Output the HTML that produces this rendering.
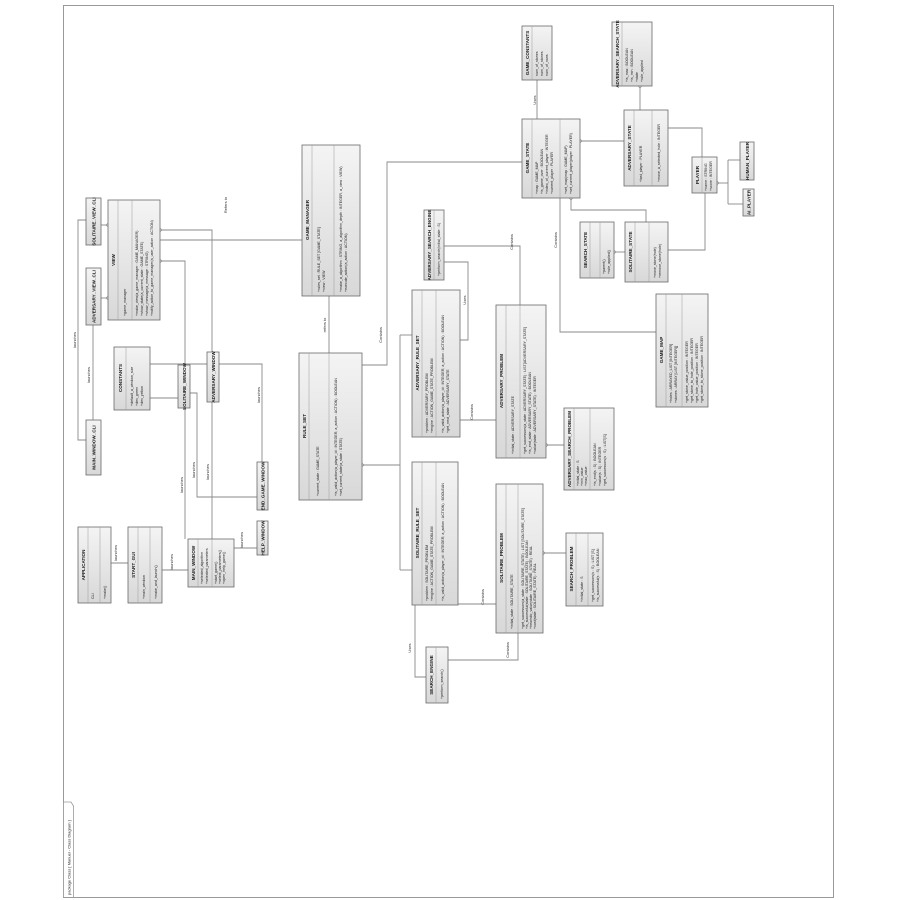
<!DOCTYPE html>
<html><head><meta charset="utf-8"><style>
html,body{margin:0;padding:0;background:#fff;}
svg{display:block;}
text{font-family:"Liberation Sans",sans-serif;fill:#222;}
.n{font-size:4.6px;font-weight:bold;text-anchor:middle;}
.s{font-size:3px;fill:#888;text-anchor:middle;}
.a{font-size:3.6px;text-anchor:start;}
.l{font-size:4px;text-anchor:middle;fill:#333;}
rect.b{fill:url(#g);stroke:#6a6a6a;stroke-width:0.8;}
line.d{stroke:#9a9a9a;stroke-width:0.5;}
.c{fill:none;stroke:#8a8a8a;stroke-width:0.9;}
</style></head><body>
<svg width="900" height="900" viewBox="0 0 900 900" xmlns="http://www.w3.org/2000/svg">
<defs><linearGradient id="g" x1="0" y1="0" x2="0" y2="1"><stop offset="0" stop-color="#f4f4f4"/><stop offset="1" stop-color="#d8d8d8"/></linearGradient></defs>
<rect x="63.5" y="5.5" width="770" height="892" fill="#fff" stroke="#999" stroke-width="1"/>
<path d="M63.5 897 L63.5 802 L71 802 L73.5 806 L73.5 897" fill="#fff" stroke="#999" stroke-width="0.8"/>
<text class="a" transform="translate(70.5,895) rotate(-90)" style="font-size:4px">package Class [ Manuel - Class Diagram ]</text>

<!-- connectors -->
<g class="c">
<polyline points="160,240 302,240"/>
<polyline points="329,296 329,353"/>
<polyline points="362,365 387,365 387,162 522,162"/>
<polyline points="362,465 400,465"/><polyline points="400,335 400,570"/><polyline points="400,335 412,335"/><polyline points="400,570 412,570"/>
<polyline points="444,246 520,246 520,305"/>
<polyline points="444,262 468,262 468,340 460,340"/>
<polyline points="460,420 496,420"/>
<polyline points="546,445 564,445"/>
<polyline points="458,604 496,604"/>
<polyline points="448,660 518,660 518,633"/>
<polyline points="415,605 415,677 426,677"/>
<polyline points="543,553 566,553"/>
<polyline points="537,80 537,119"/>
<polyline points="640,86 640,110"/>
<polyline points="580,141 624,141"/>
<polyline points="668,128 702,128 702,157"/>
<polyline points="717,183 728,183"/><polyline points="728,160 728,204"/><polyline points="728,160 740,160"/><polyline points="728,204 743,204"/>
<polyline points="571,198 571,210 646,210 646,222"/>
<polyline points="614,252 625,252"/>
<polyline points="705,193 705,250 668,250"/>
<polyline points="560,198 560,332 656,332"/>
<polyline points="101,225 108,225"/><polyline points="101,298 108,298"/>
<polyline points="86,440 78,440 78,220 86,220"/>
<polyline points="93,420 93,325"/>
<polyline points="160,230 212,230 212,352"/>
<polyline points="160,261 185,261 185,365"/>
<polyline points="150,364 262,364 262,462"/>
<polyline points="150,398 178,398"/>
<polyline points="190,393 197,393 197,497 257,497"/>
<polyline points="185,408 185,539"/>
<polyline points="212,402 212,539"/>
<polyline points="234,548 257,548"/>
<polyline points="162,570 188,570"/>
<polyline points="111,563 128,563"/>
</g>
<g fill="#fff" stroke="#777" stroke-width="0.6">
<circle cx="580" cy="141" r="1.3"/><circle cx="571" cy="198" r="1.3"/><circle cx="717" cy="183" r="1.3"/><circle cx="546" cy="445" r="1.3"/><circle cx="543" cy="553" r="1.3"/><circle cx="614" cy="252" r="1.3"/><circle cx="640" cy="86" r="1.3"/><circle cx="362" cy="465" r="1.3"/><circle cx="108" cy="225" r="1.3"/><circle cx="108" cy="298" r="1.3"/><circle cx="160" cy="230" r="1.3"/><circle cx="160" cy="261" r="1.3"/>
</g>
<!-- connector labels -->
<text class="l" transform="translate(227,205) rotate(-90)">Refers to</text>
<text class="l" transform="translate(326,325) rotate(-90)">refers to</text>
<text class="l" transform="translate(382,335) rotate(-90)">Contains</text>
<text class="l" transform="translate(513,242) rotate(-90)">Contains</text>
<text class="l" transform="translate(466,300) rotate(-90)">Uses</text>
<text class="l" transform="translate(473,412) rotate(-90)">Contains</text>
<text class="l" transform="translate(484,597) rotate(-90)">Contains</text>
<text class="l" transform="translate(509,650) rotate(-90)">Contains</text>
<text class="l" transform="translate(411,648) rotate(-90)">Uses</text>
<text class="l" transform="translate(536,100) rotate(-90)">Uses</text>
<text class="l" transform="translate(557,240) rotate(-90)">Contains</text>
<text class="l" transform="translate(76,340) rotate(-90)">launches</text>
<text class="l" transform="translate(90,375) rotate(-90)">launches</text>
<text class="l" transform="translate(260,395) rotate(-90)">launches</text>
<text class="l" transform="translate(183,485) rotate(-90)">launches</text>
<text class="l" transform="translate(195,470) rotate(-90)">launches</text>
<text class="l" transform="translate(209,472) rotate(-90)">launches</text>
<text class="l" transform="translate(243,540) rotate(-90)">launches</text>
<text class="l" transform="translate(173,562) rotate(-90)">launches</text>
<text class="l" transform="translate(117,553) rotate(-90)">launches</text>

<!-- boxes -->
<g transform="translate(522,26)"><rect class="b" width="30" height="54"/><line class="d" x1="10" y1="0" x2="10" y2="54"/><text class="n" transform="translate(7,27) rotate(-90)">GAME_CONSTANTS</text><text class="a" transform="translate(16,50) rotate(-90)">num_of_stones</text><text class="a" transform="translate(21,50) rotate(-90)">num_of_stones</text><text class="a" transform="translate(26,50) rotate(-90)">num_of_rows</text></g>

<g transform="translate(612,22)"><rect class="b" width="40" height="64"/><line class="d" x1="10" y1="0" x2="10" y2="64"/><text class="n" transform="translate(7,32) rotate(-90)">ADVERSARY_SEARCH_STATE</text><text class="a" transform="translate(16,60) rotate(-90)">+is_max : BOOLEAN</text><text class="a" transform="translate(21,60) rotate(-90)">+is_min : BOOLEAN</text><text class="a" transform="translate(26,60) rotate(-90)">+state</text><text class="a" transform="translate(31,60) rotate(-90)">+rule_applied</text></g>

<g transform="translate(522,119)"><rect class="b" width="58" height="79"/><line class="d" x1="10" y1="0" x2="10" y2="79"/><line class="d" x1="38" y1="0" x2="38" y2="79"/><text class="n" transform="translate(7,39) rotate(-90)">GAME_STATE</text><text class="a" transform="translate(16,75) rotate(-90)">+map : GAME_MAP</text><text class="a" transform="translate(21,75) rotate(-90)">+is_game_over : BOOLEAN</text><text class="a" transform="translate(26,75) rotate(-90)">+index_of_current_player : INTEGER</text><text class="a" transform="translate(31,75) rotate(-90)">+current_player : PLAYER</text><text class="a" transform="translate(45,75) rotate(-90)">+set_map(map : GAME_MAP)</text><text class="a" transform="translate(50,75) rotate(-90)">+set_current_player(player : PLAYER)</text></g>

<g transform="translate(624,110)"><rect class="b" width="44" height="76"/><line class="d" x1="10" y1="0" x2="10" y2="76"/><line class="d" x1="28" y1="0" x2="28" y2="76"/><text class="n" transform="translate(7,38) rotate(-90)">ADVERSARY_STATE</text><text class="a" transform="translate(18,72) rotate(-90)">+last_player : PLAYER</text><text class="a" transform="translate(36,72) rotate(-90)">+move_a_selected_hole : INTEGER</text></g>

<g transform="translate(692,157)"><rect class="b" width="25" height="36"/><line class="d" x1="10" y1="0" x2="10" y2="36"/><text class="n" transform="translate(7,18) rotate(-90)">PLAYER</text><text class="a" transform="translate(15,34) rotate(-90)">+name : STRING</text><text class="a" transform="translate(20,34) rotate(-90)">+score : INTEGER</text></g>
<g transform="translate(740,142)"><rect class="b" width="14" height="38"/><text class="n" transform="translate(9,19) rotate(-90)">HUMAN_PLAYER</text></g>
<g transform="translate(743,189)"><rect class="b" width="11" height="27"/><text class="n" transform="translate(7.5,13.5) rotate(-90)">AI_PLAYER</text></g>

<g transform="translate(580,222)"><rect class="b" width="34" height="56"/><line class="d" x1="10" y1="0" x2="10" y2="56"/><line class="d" x1="20" y1="0" x2="20" y2="56"/><text class="n" transform="translate(7,28) rotate(-90)">SEARCH_STATE</text><text class="a" transform="translate(25,52) rotate(-90)">+parent()</text><text class="a" transform="translate(30,52) rotate(-90)">+rule_applied()</text></g>
<g transform="translate(625,222)"><rect class="b" width="43" height="60"/><line class="d" x1="10" y1="0" x2="10" y2="60"/><line class="d" x1="24" y1="0" x2="24" y2="60"/><text class="n" transform="translate(7,30) rotate(-90)">SOLITAIRE_STATE</text><text class="a" transform="translate(31,56) rotate(-90)">+move_stone(hole)</text><text class="a" transform="translate(36,56) rotate(-90)">+remove_stone(hole)</text></g>

<g transform="translate(656,294)"><rect class="b" width="52" height="113"/><line class="d" x1="10" y1="0" x2="10" y2="113"/><line class="d" x1="26" y1="0" x2="26" y2="113"/><text class="n" transform="translate(7,56) rotate(-90)">GAME_MAP</text><text class="a" transform="translate(16,109) rotate(-90)">+holes : ARRAYED_LIST [INTEGER]</text><text class="a" transform="translate(21,109) rotate(-90)">+stones : ARRAY [LIST [INTEGER]]</text><text class="a" transform="translate(32,109) rotate(-90)">+get_stone_value_position : INTEGER</text><text class="a" transform="translate(37,109) rotate(-90)">+get_stone_to_hole_position : INTEGER</text><text class="a" transform="translate(42,109) rotate(-90)">+get_hole_value_position : INTEGER</text><text class="a" transform="translate(47,109) rotate(-90)">+get_stone_to_stone_position : INTEGER</text></g>

<g transform="translate(302,145)"><rect class="b" width="58" height="151"/><line class="d" x1="10" y1="0" x2="10" y2="151"/><line class="d" x1="32" y1="0" x2="32" y2="151"/><text class="n" transform="translate(7,75) rotate(-90)">GAME_MANAGER</text><text class="a" transform="translate(18,147) rotate(-90)">+rules_set : RULE_SET [GAME_STATE]</text><text class="a" transform="translate(23,147) rotate(-90)">+view : VIEW</text><text class="a" transform="translate(40,147) rotate(-90)">+make_a_algorithm : STRING, a_algorithm_depth : INTEGER, a_view : VIEW)</text><text class="a" transform="translate(45,147) rotate(-90)">+execute_action(a_action : ACTION)</text></g>

<g transform="translate(424,210)"><rect class="b" width="20" height="70"/><line class="d" x1="10" y1="0" x2="10" y2="70"/><text class="n" transform="translate(7,35) rotate(-90)">ADVERSARY_SEARCH_ENGINE</text><text class="a" transform="translate(16,66) rotate(-90)">+perform_search(initial_state : S)</text></g>

<g transform="translate(412,290)"><rect class="b" width="48" height="147"/><line class="d" x1="10" y1="0" x2="10" y2="147"/><line class="d" x1="24" y1="0" x2="24" y2="147"/><text class="n" transform="translate(7,73) rotate(-90)">ADVERSARY_RULE_SET</text><text class="a" transform="translate(16,143) rotate(-90)">+problem : ADVERSARY_PROBLEM</text><text class="a" transform="translate(21,143) rotate(-90)">+engine : ACTION_GAME_STATE_PROBLEM</text><text class="a" transform="translate(32,143) rotate(-90)">+is_valid_action(a_player_id : INTEGER, a_action : ACTION) : BOOLEAN</text><text class="a" transform="translate(37,143) rotate(-90)">+get_next_state : ADVERSARY_STATE</text></g>

<g transform="translate(496,305)"><rect class="b" width="50" height="153"/><line class="d" x1="10" y1="0" x2="10" y2="153"/><line class="d" x1="24" y1="0" x2="24" y2="153"/><text class="n" transform="translate(7,76) rotate(-90)">ADVERSARY_PROBLEM</text><text class="a" transform="translate(18,149) rotate(-90)">+initial_state : ADVERSARY_STATE</text><text class="a" transform="translate(30,149) rotate(-90)">+get_successors(a_state : ADVERSARY_STATE) : LIST[ADVERSARY_STATE]</text><text class="a" transform="translate(35,149) rotate(-90)">+is_end_state : ADVERSARY_STATE) : BOOLEAN</text><text class="a" transform="translate(40,149) rotate(-90)">+value(state : ADVERSARY_STATE) : INTEGER</text></g>

<g transform="translate(564,408)"><rect class="b" width="50" height="82"/><line class="d" x1="10" y1="0" x2="10" y2="82"/><line class="d" x1="26" y1="0" x2="26" y2="82"/><text class="n" transform="translate(7,41) rotate(-90)">ADVERSARY_SEARCH_PROBLEM</text><text class="a" transform="translate(15,78) rotate(-90)">+initial_state : S</text><text class="a" transform="translate(19,78) rotate(-90)">+min_value</text><text class="a" transform="translate(23,78) rotate(-90)">+max_value</text><text class="a" transform="translate(32,78) rotate(-90)">+is_end(s : S) : BOOLEAN</text><text class="a" transform="translate(37,78) rotate(-90)">+value(s : S) : INTEGER</text><text class="a" transform="translate(42,78) rotate(-90)">+get_successors(s : S) : LIST[S]</text></g>

<g transform="translate(299,353)"><rect class="b" width="63" height="147"/><line class="d" x1="10" y1="0" x2="10" y2="147"/><line class="d" x1="30" y1="0" x2="30" y2="147"/><text class="n" transform="translate(7,73) rotate(-90)">RULE_SET</text><text class="a" transform="translate(20,143) rotate(-90)">+current_state : GAME_STATE</text><text class="a" transform="translate(38,143) rotate(-90)">+is_valid_action(a_player_id : INTEGER, a_action : ACTION) : BOOLEAN</text><text class="a" transform="translate(43,143) rotate(-90)">+set_current_state(a_state : STATE)</text></g>

<g transform="translate(412,462)"><rect class="b" width="46" height="143"/><line class="d" x1="10" y1="0" x2="10" y2="143"/><line class="d" x1="24" y1="0" x2="24" y2="143"/><text class="n" transform="translate(7,71) rotate(-90)">SOLITAIRE_RULE_SET</text><text class="a" transform="translate(16,139) rotate(-90)">+problem : SOLITAIRE_PROBLEM</text><text class="a" transform="translate(21,139) rotate(-90)">+engine : ACTION_GAME_STATE_PROBLEM</text><text class="a" transform="translate(32,139) rotate(-90)">+is_valid_action(a_player_id : INTEGER, a_action : ACTION) : BOOLEAN</text></g>

<g transform="translate(496,484)"><rect class="b" width="47" height="149"/><line class="d" x1="10" y1="0" x2="10" y2="149"/><line class="d" x1="22" y1="0" x2="22" y2="149"/><text class="n" transform="translate(7,74) rotate(-90)">SOLITAIRE_PROBLEM</text><text class="a" transform="translate(17,145) rotate(-90)">+initial_state : SOLITAIRE_STATE</text><text class="a" transform="translate(28,145) rotate(-90)">+get_successors(a_state : SOLITAIRE_STATE) : LIST [SOLITAIRE_STATE]</text><text class="a" transform="translate(32,145) rotate(-90)">+is_successful(state : SOLITAIRE_STATE) : BOOLEAN</text><text class="a" transform="translate(36,145) rotate(-90)">+heuristic_value(state : SOLITAIRE_STATE) : REAL</text><text class="a" transform="translate(40,145) rotate(-90)">+cost(state : SOLITAIRE_STATE) : REAL</text></g>

<g transform="translate(566,533)"><rect class="b" width="37" height="73"/><line class="d" x1="10" y1="0" x2="10" y2="73"/><line class="d" x1="22" y1="0" x2="22" y2="73"/><text class="n" transform="translate(7,36) rotate(-90)">SEARCH_PROBLEM</text><text class="a" transform="translate(17,69) rotate(-90)">+initial_state : S</text><text class="a" transform="translate(28,69) rotate(-90)">+get_successors(s : S) : LIST [S]</text><text class="a" transform="translate(33,69) rotate(-90)">+is_successful(s : S) : BOOLEAN</text></g>

<g transform="translate(426,647)"><rect class="b" width="22" height="56"/><line class="d" x1="10" y1="0" x2="10" y2="56"/><text class="n" transform="translate(7,28) rotate(-90)">SEARCH_ENGINE</text><text class="a" transform="translate(17,52) rotate(-90)">+perform_search()</text></g>

<g transform="translate(86,198)"><rect class="b" width="15" height="47"/><text class="n" transform="translate(9.5,23.5) rotate(-90)">SOLITAIRE_VIEW_CLI</text></g>
<g transform="translate(108,200)"><rect class="b" width="52" height="120"/><line class="d" x1="10" y1="0" x2="10" y2="120"/><line class="d" x1="24" y1="0" x2="24" y2="120"/><text class="n" transform="translate(7,60) rotate(-90)">VIEW</text><text class="a" transform="translate(18,116) rotate(-90)">+game_manager</text><text class="a" transform="translate(30,116) rotate(-90)">+make_view(a_game_manager : GAME_MANAGER)</text><text class="a" transform="translate(35,116) rotate(-90)">+show_state(a_current_state : GAME_STATE)</text><text class="a" transform="translate(40,116) rotate(-90)">+show_message(a_message : STRING)</text><text class="a" transform="translate(45,116) rotate(-90)">+notify_action_to_game_manager(a_user_action : ACTION)</text></g>
<g transform="translate(86,268)"><rect class="b" width="15" height="57"/><text class="n" transform="translate(9.5,28.5) rotate(-90)">ADVERSARY_VIEW_CLI</text></g>
<g transform="translate(114,347)"><rect class="b" width="36" height="63"/><line class="d" x1="12" y1="0" x2="12" y2="63"/><text class="n" transform="translate(8,31) rotate(-90)">CONSTANTS</text><text class="a" transform="translate(19,59) rotate(-90)">+default_a_window_size</text><text class="a" transform="translate(24,59) rotate(-90)">+dev_green</text><text class="a" transform="translate(29,59) rotate(-90)">+dev_yellow</text></g>
<g transform="translate(178,365)"><rect class="b" width="12" height="43"/><text class="n" transform="translate(8,21.5) rotate(-90)">SOLITAIRE_WINDOW</text></g>
<g transform="translate(207,352)"><rect class="b" width="12" height="50"/><text class="n" transform="translate(8,25) rotate(-90)">ADVERSARY_WINDOW</text></g>
<g transform="translate(86,420)"><rect class="b" width="15" height="55"/><text class="n" transform="translate(9.5,27.5) rotate(-90)">MAIN_WINDOW_CLI</text></g>
<g transform="translate(257,462)"><rect class="b" width="11" height="48"/><text class="n" transform="translate(7.5,24) rotate(-90)">END_GAME_WINDOW</text></g>
<g transform="translate(257,521)"><rect class="b" width="11" height="34"/><text class="n" transform="translate(7.5,17) rotate(-90)">HELP_WINDOW</text></g>
<g transform="translate(188,539)"><rect class="b" width="46" height="48"/><line class="d" x1="10" y1="0" x2="10" y2="48"/><line class="d" x1="24" y1="0" x2="24" y2="48"/><text class="n" transform="translate(7,24) rotate(-90)">MAIN_WINDOW</text><text class="a" transform="translate(15,45) rotate(-90)">+selected_algorithm</text><text class="a" transform="translate(20,45) rotate(-90)">+selected_parameters</text><text class="a" transform="translate(29,45) rotate(-90)">+start_game()</text><text class="a" transform="translate(33,45) rotate(-90)">+select_parameters()</text><text class="a" transform="translate(37,45) rotate(-90)">+open_help_game()</text></g>
<g transform="translate(78,527)"><rect class="b" width="33" height="76"/><line class="d" x1="10" y1="0" x2="10" y2="76"/><line class="d" x1="22" y1="0" x2="22" y2="76"/><text class="n" transform="translate(7,38) rotate(-90)">APPLICATION</text><text class="a" transform="translate(16,72) rotate(-90)">CLI</text><text class="a" transform="translate(28,72) rotate(-90)">+make()</text></g>
<g transform="translate(128,527)"><rect class="b" width="34" height="76"/><line class="d" x1="10" y1="0" x2="10" y2="76"/><line class="d" x1="22" y1="0" x2="22" y2="76"/><text class="n" transform="translate(7,38) rotate(-90)">START_GUI</text><text class="a" transform="translate(17,72) rotate(-90)">+main_window</text><text class="a" transform="translate(29,72) rotate(-90)">+make_and_launch()</text></g>
</svg>
</body></html>
